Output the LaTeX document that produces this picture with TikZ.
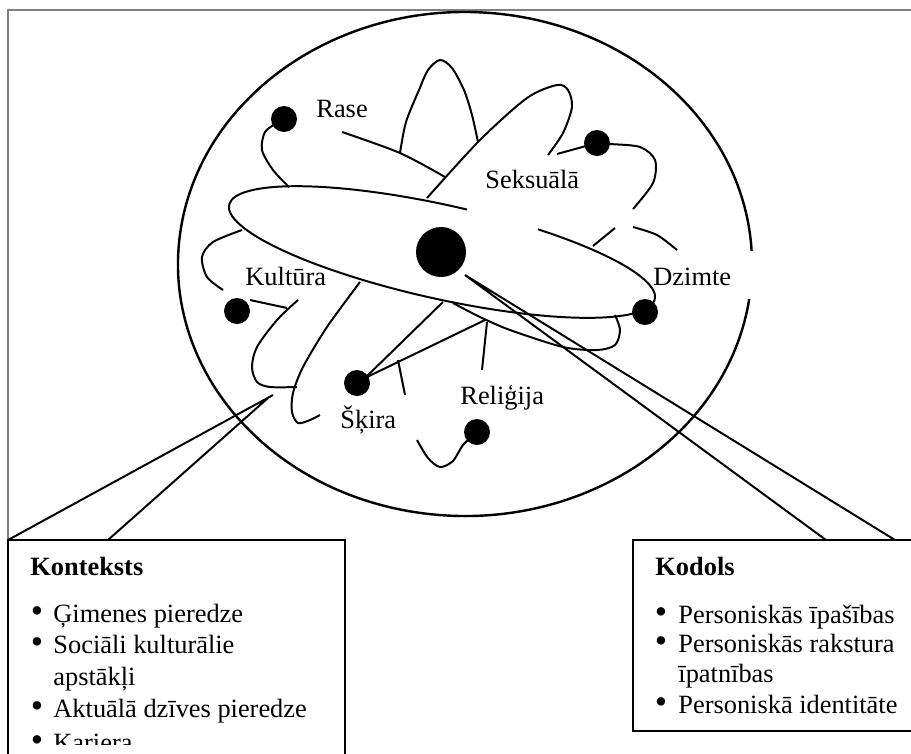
\documentclass[tikz,border=0pt]{standalone}
\usepackage{fontspec}
\setmainfont{Liberation Serif}
\begin{document}
\begin{tikzpicture}[x=0.455pt,y=-0.455pt,
    orbit/.style={line width=0.9pt},
    lbl/.style={anchor=base west,inner sep=0pt,font=\fontsize{12}{14}\selectfont},
    bul/.style={anchor=base,inner sep=0pt,font=\fontsize{16}{14}\selectfont}]
      \clip (0,0) rectangle (911,753);

      % frame
      \draw [color=gray,line width=1pt]
      (8,540) -- (8,10) -- (920,10);

      % outer circle, open behind Dzimte
      \draw [line width=1.1pt]
      (465,264) ++(8:287 and 252)
      arc [start angle=8,end angle=357,x radius=287,y radius=252];

      % long orbit, open under the hidden caption
      \begin{scope}[shift={(442,252)},rotate=-12.5]
      \draw [orbit]
      (-66:218 and 47) arc [start angle=-66,end angle=274,x radius=218,y radius=47];
      \end{scope}

      % vertical orbit
      \draw [orbit] plot [smooth] coordinates
      {(400,153) (406,122) (419,90) (428,70) (440,60) (452,68) (464,90) (472,115) (478,142)};
      \draw [orbit] (398,360) -- (405,395) (487,322) -- (482,370);
      \draw [orbit] plot [smooth] coordinates
      {(417,440) (428,458) (440,467) (453,461) (463,445) (477,432)};

      % Rase orbit
      \draw [orbit] plot [smooth] coordinates
      {(284,119) (277,123) (265,132) (262,150) (273,170) (289,187)};
      \draw [orbit] plot [smooth] coordinates {(342,132) (400,153) (445,177)};
      \draw [orbit] plot [smooth] coordinates
      {(453,303) (480,317) (510,330) (563,347) (597,350) (615,345) (620,330) (615,315)};

      % tilted orbit
      \draw [orbit] plot [smooth] coordinates
      {(427,198) (480,140) (527,98) (557,85) (568,90) (572,107) (563,133) (548,155)};
      \draw [orbit] plot [smooth] coordinates
      {(360,282) (327,327) (303,367) (293,393) (292,412) (298,423) (310,420) (320,415)};
      \draw [orbit] (443,302) -- (365,378);
      \draw [orbit] (367,377) -- (485,320);

      % Seksuala orbit
      \draw [orbit] (557,154) -- (597,143);
      \draw [orbit] plot [smooth] coordinates
      {(597,143) (610,144) (640,147) (655,160) (653,183) (633,209)};
      \draw [orbit] (615,228) -- (593,246);

      % Kultura orbit
      \draw [orbit] plot [smooth] coordinates
      {(242,230) (213,242) (202,257) (207,277) (223,290)};
      \draw [orbit] (250,300) -- (287,308);
      \draw [orbit] plot [smooth] coordinates {(633,227) (657,235) (677,250)};
      \draw [orbit] plot [smooth] coordinates
      {(298,300) (277,320) (257,347) (252,367) (257,382) (270,387) (297,387)};

      % electrons and core
      \fill
      (284,119) circle (13)
      (597,143) circle (13)
      (237,311) circle (13)
      (645,312) circle (13)
      (357,383) circle (13)
      (477,432) circle (13)
      (441,252) circle (25);

      \node [lbl] (rase) at (316,117) {Rase};
      \node [lbl] (seksuala) at (485,188) {Seksuālā};
      \node [lbl] (kultura) at (245,285) {Kultūra};
      \node [lbl] (dzimte) at (653,285) {Dzimte};
      \node [lbl] (skira) at (340,428) {Šķira};
      \node [lbl] (religija) at (460,404) {Reliģija};

      % callouts
      \coordinate (ctxA) at (8,540);
      \coordinate (ctxB) at (108,540);
      \coordinate (tipA) at (273,395);
      \coordinate (tipB) at (268,398);
      \coordinate (core) at (465,275);
      \coordinate (kodA) at (826,540);
      \coordinate (kodB) at (895,540);
      \draw [orbit] (ctxA) -- (tipA) (ctxB) -- (tipB);
      \draw [orbit] (core) -- (kodA) (core) -- (kodB);

      % boxes
      \draw [orbit] (8,540) rectangle (345,760);
      \draw [orbit] (633,540) rectangle (920,731);

      \node [lbl,font=\bfseries\fontsize{12}{14}\selectfont] (konteksts) at (30,575) {Konteksts};
      \node [bul] (kb1) at (37,622) {•};
      \node [lbl] (ki1) at (53,622) {Ģimenes pieredze};
      \node [bul] (kb2) at (37,653) {•};
      \node [lbl] (ki2) at (53,653) {Sociāli kulturālie};
      \node [lbl] (ki2b) at (53,685) {apstākļi};
      \node [bul] (kb3) at (37,717) {•};
      \node [lbl] (ki3) at (53,717) {Aktuālā dzīves pieredze};
      \begin{scope}
      \clip (0,0) rectangle (911,744);
      \node [bul] (kb4) at (37,751) {•};
      \node [lbl] (ki4) at (53,751) {Kariera};
      \end{scope}

      \node [lbl,font=\bfseries\fontsize{12}{14}\selectfont] (kodols) at (655,575) {Kodols};
      \node [bul] (db1) at (661,623) {•};
      \node [lbl] (di1) at (678,623) {Personiskās īpašības};
      \node [bul] (db2) at (661,652) {•};
      \node [lbl] (di2) at (678,652) {Personiskās rakstura};
      \node [lbl] (di2b) at (678,682) {īpatnības};
      \node [bul] (db3) at (661,713) {•};
      \node [lbl] (di3) at (678,713) {Personiskā identitāte};

    \end{tikzpicture}
\end{document}
